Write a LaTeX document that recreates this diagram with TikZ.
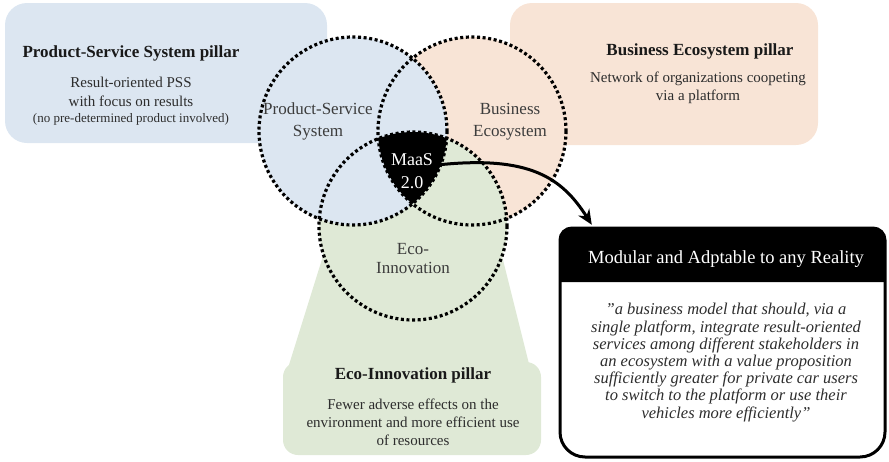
\documentclass[tikz,border=0pt]{standalone}
\usepackage{fontspec}
\setmainfont{Liberation Serif}
\usetikzlibrary{arrows.meta}

\definecolor{pssblue}{RGB}{220,230,241}
\definecolor{bepeach}{RGB}{248,228,214}
\definecolor{eigreen}{RGB}{223,233,214}
\definecolor{txtgray}{RGB}{45,45,45}
\definecolor{lblgray}{RGB}{60,60,60}

\begin{document}
\begin{tikzpicture}[x=1pt,y=-1pt,
  ring/.style={line width=3.2pt, dash pattern=on 3pt off 2.6pt, black},
  pillartitle/.style={font=\fontsize{17}{20}\selectfont\bfseries, text=black!90, inner sep=0pt, anchor=base, align=center},
  pillarbody/.style={font=\fontsize{15}{18.5}\selectfont, text=txtgray, inner sep=0pt, anchor=base, align=center},
  pillarnote/.style={font=\fontsize{13}{15}\selectfont, text=txtgray, inner sep=0pt, anchor=base, align=center},
  ringlabel/.style={font=\fontsize{17}{22}\selectfont, text=lblgray, inner sep=0pt, anchor=base, align=center},
  corelabel/.style={font=\fontsize{18}{23}\selectfont, text=white, inner sep=0pt, anchor=base, align=center},
  headtext/.style={font=\fontsize{18.5}{22}\selectfont, text=white, inner sep=0pt, anchor=base},
  quotetext/.style={font=\fontsize{16.5}{17.2}\selectfont\itshape, text=txtgray, inner sep=0pt, anchor=base, align=center},
  flow/.style={line width=3pt, black, -{Stealth[length=15pt,width=13pt]}}
]
\useasboundingbox (0,0) rectangle (889,461);

% ---- pillar panels and ring fills (peach, then green, then blue on top)
\fill[bepeach, rounded corners=22pt] (510,3) rectangle (818,145);
\fill[bepeach] (472,131) circle[radius=94];
\fill[eigreen] (328,240) -- (498,240) -- (530,368) -- (288,368) -- cycle;
\fill[eigreen, rounded corners=15pt] (283,362) rectangle (541,455);
\fill[eigreen] (413,226) circle[radius=94];
\fill[pssblue, rounded corners=22pt] (5,3) rectangle (327,143);
\fill[pssblue] (353,131) circle[radius=94];

% ---- common core of the three rings
\begin{scope}
  \clip (353,131) circle[radius=94];
  \clip (472,131) circle[radius=94];
  \fill[black] (413,226) circle[radius=94];
\end{scope}

% ---- dotted rings
\draw[ring] (353,131) circle[radius=94];
\draw[ring] (472,131) circle[radius=94];
\draw[ring] (413,226) circle[radius=94];

% ---- definition box
\node[minimum width=325pt, minimum height=54pt, inner sep=0pt] (hdr) at (722.5,255) {};
\fill[black] (560,282) -- (560,240) arc[start angle=180, end angle=270, radius=12]
  -- (873,228) arc[start angle=270, end angle=360, radius=12] -- (885,282) -- cycle;
\draw[line width=3pt] (560,240) arc[start angle=180, end angle=270, radius=12]
  -- (873,228) arc[start angle=270, end angle=360, radius=12]
  -- (885,432) arc[start angle=0, end angle=90, radius=25]
  -- (585,457) arc[start angle=90, end angle=180, radius=25] -- cycle;

% ---- texts (multi-line nodes sit on the baseline of their last line)
\node[pillartitle] (psstitle) at (131,57) {Product-Service System pillar};
\node[pillarbody, font=\fontsize{15}{19}\selectfont] (pssbody) at (131,106) {Result-oriented PSS\\with focus on results};
\node[pillarnote] (pssnote) at (131,122) {(no pre-determined product involved)};

\node[pillartitle] (betitle) at (700,55) {Business Ecosystem pillar};
\node[pillarbody, font=\fontsize{15}{18}\selectfont] (bebody) at (698,100) {Network of organizations coopeting\\via a platform};

\node[ringlabel] (psslabel) at (318,136) {Product-Service\\System};
\node[ringlabel] (belabel) at (510,136) {Business\\Ecosystem};
\node[ringlabel, font=\fontsize{17}{19}\selectfont] (eilabel) at (413,273) {Eco-\\Innovation};
\node[corelabel] (maas) at (412,188) {MaaS\\2.0};

\node[pillartitle] (eititle) at (413,379) {Eco-Innovation pillar};
\node[pillarbody, font=\fontsize{15}{18}\selectfont] (eibody) at (413,445) {Fewer adverse effects on the\\environment and more efficient use\\of resources};

\node[headtext] (hdrtext) at (726,263) {Modular and Adptable to any Reality};
\node[quotetext] (quote) at (726,418) {"a business model that should, via a\\single platform, integrate result-oriented\\services among different stakeholders in\\an ecosystem with a value proposition\\sufficiently greater for private car users\\to switch to the platform or use their\\vehicles more efficiently"};

% ---- connector from the core to the definition box
\coordinate (corefrom) at (437,165);
\draw[flow] (corefrom) .. controls (530,155) and (562,178) .. ([xshift=32pt,yshift=3pt]hdr.north west);

\end{tikzpicture}
\end{document}
